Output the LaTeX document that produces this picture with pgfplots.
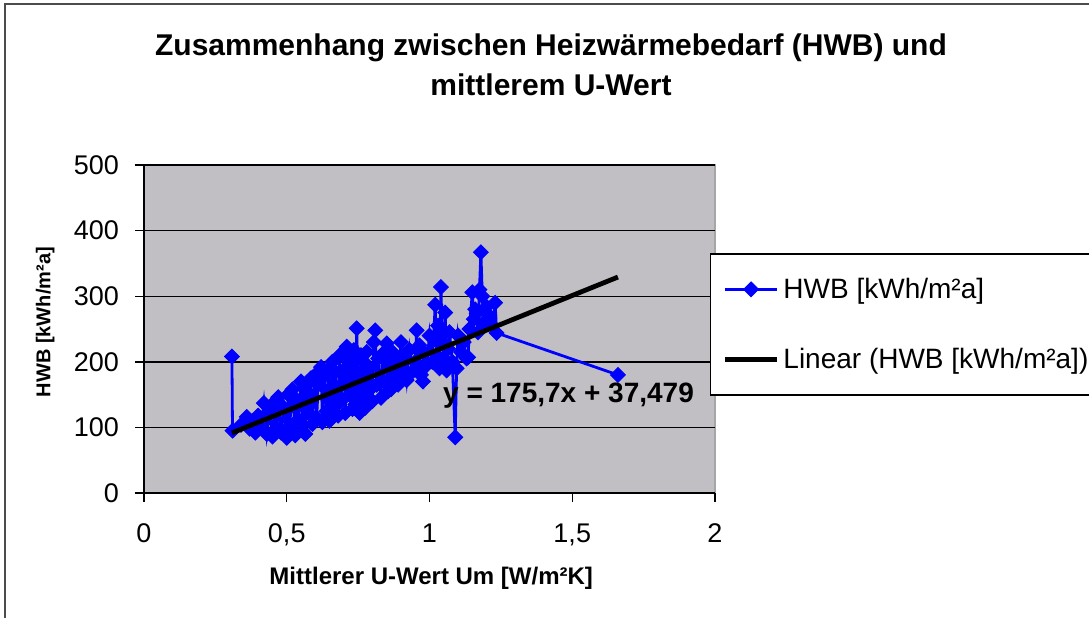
\documentclass[border=0pt]{standalone}
\usepackage{pgfplots}
\pgfplotsset{compat=1.18}
\usepackage{fontspec}
\setmainfont{Liberation Sans}
\definecolor{plotgray}{RGB}{193,191,195}
\definecolor{xlblue}{RGB}{0,0,255}
\begin{document}
\begin{tikzpicture}
\useasboundingbox (0,0) rectangle (544.5pt,308.5pt);
\draw[line width=0.9pt, black!70] (2.5pt,-5pt) -- (2.5pt,306.5pt) -- (560pt,306.5pt);
\node[align=center, font=\bfseries\fontsize{15}{20}\selectfont] at (275.5pt,276pt) {Zusammenhang zwischen Heizwärmebedarf (HWB) und\\mittlerem U-Wert};
\begin{axis}[
  at={(72pt,62pt)}, anchor=south west,
  scale only axis, width=285.5pt, height=164pt,
  clip mode=individual,
  xmin=0, xmax=2, ymin=0, ymax=500,
  xtick={0,0.5,1,1.5,2}, ytick={0,100,200,300,400,500},
  axis x line=bottom, axis y line=left,
  axis line style={-, black, line width=0.8pt},
  axis background/.style={fill=plotgray, draw=black!35, line width=1pt},
  ymajorgrids, major grid style={black, line width=0.7pt},
  tick align=outside, major tick length=4.5pt, tick style={black, line width=0.7pt},
  /pgf/number format/assume math mode=true,
  /pgf/number format/use comma,
  ticklabel style={font=\fontsize{13.5}{16}\selectfont},
  xticklabel style={yshift=-7.5pt},
  yticklabel style={xshift=-4.5pt},
  xlabel={Mittlerer U-Wert Um [W/m²K]},
  ylabel={HWB [kWh/m²a]},
  xlabel style={font=\bfseries\fontsize{12}{14}\selectfont, at={(axis description cs:0.503,-0.259)}, anchor=center},
  ylabel style={font=\bfseries\fontsize{10}{12}\selectfont, at={(axis description cs:-0.173,0.521)}, anchor=center},
  legend style={at={(0.991,0.732)}, anchor=north west, draw=black, line width=0.8pt, fill=white,
    font=\fontsize{14}{16}\selectfont, row sep=19.5pt, inner ysep=10pt, inner xsep=6pt},
  legend cell align=left,
  legend image code/.code={\draw[mark repeat=2,mark phase=2,#1] plot coordinates {(0pt,0pt) (13pt,0pt) (26pt,0pt)};},
]
\addplot[color=xlblue, line width=1.4pt, mark=square*, mark size=2.6pt, mark options={rotate=45, fill=xlblue, draw=xlblue, line width=0.5pt}] coordinates {
(0.308,208) (0.310,95) (0.34,104) (0.36,116) (0.37,98) (0.38,110) (0.39,92) (0.40,118)
(0.41,100) (0.42,137) (0.43,90) (0.44,125) (0.45,86) (0.46,140) (0.465,98) (0.47,146)
(0.48,92) (0.49,130) (0.50,84) (0.505,150) (0.51,102) (0.52,158) (0.53,88) (0.535,142)
(0.54,112) (0.55,170) (0.555,95) (0.56,160) (0.565,90) (0.57,168) (0.58,120) (0.585,175)
(0.59,105) (0.60,180) (0.605,115) (0.61,165) (0.62,192) (0.625,108) (0.63,178) (0.64,125)
(0.645,188) (0.65,110) (0.66,200) (0.665,130) (0.67,185) (0.68,118) (0.685,210) (0.69,140)
(0.70,215) (0.705,122) (0.71,223) (0.72,150) (0.725,205) (0.73,128) (0.735,218) (0.74,135)
(0.745,251) (0.75,160) (0.755,122) (0.76,210) (0.765,145) (0.77,200) (0.775,130) (0.78,215)
(0.785,155) (0.79,190) (0.80,140) (0.805,230) (0.81,248) (0.815,165) (0.82,205) (0.83,145)
(0.835,212) (0.84,170) (0.85,228) (0.855,155) (0.86,200) (0.865,158) (0.87,215) (0.88,175)
(0.885,205) (0.89,165) (0.90,230) (0.905,180) (0.91,210) (0.92,172) (0.93,218) (0.94,185)
(0.95,200) (0.955,248) (0.96,190) (0.965,225) (0.97,180) (0.977,170) (0.98,215) (0.99,195)
(1.00,240) (1.01,200) (1.02,287) (1.025,210) (1.03,255) (1.035,190) (1.04,314) (1.045,230)
(1.05,205) (1.055,275) (1.06,187) (1.065,220) (1.07,245) (1.08,200) (1.09,85) (1.095,190)
(1.10,240) (1.11,215) (1.12,230) (1.13,205) (1.135,207) (1.14,250) (1.15,306) (1.155,265)
(1.16,280) (1.165,274) (1.17,245) (1.175,310) (1.18,367) (1.185,300) (1.19,260) (1.20,284)
(1.21,270) (1.22,255) (1.23,290) (1.235,244) (1.66,180)
};
\addlegendentry{HWB [kWh/m²a]}
\addplot[color=black, line width=2.4pt] coordinates {(0.308,91.6) (1.66,329.2)};
\addlegendentry{Linear (HWB [kWh/m²a])}
\node[font=\bfseries\fontsize{14}{16}\selectfont] at (axis cs:1.487,149) {y = 175,7x + 37,479};
\end{axis}
\end{tikzpicture}
\end{document}
